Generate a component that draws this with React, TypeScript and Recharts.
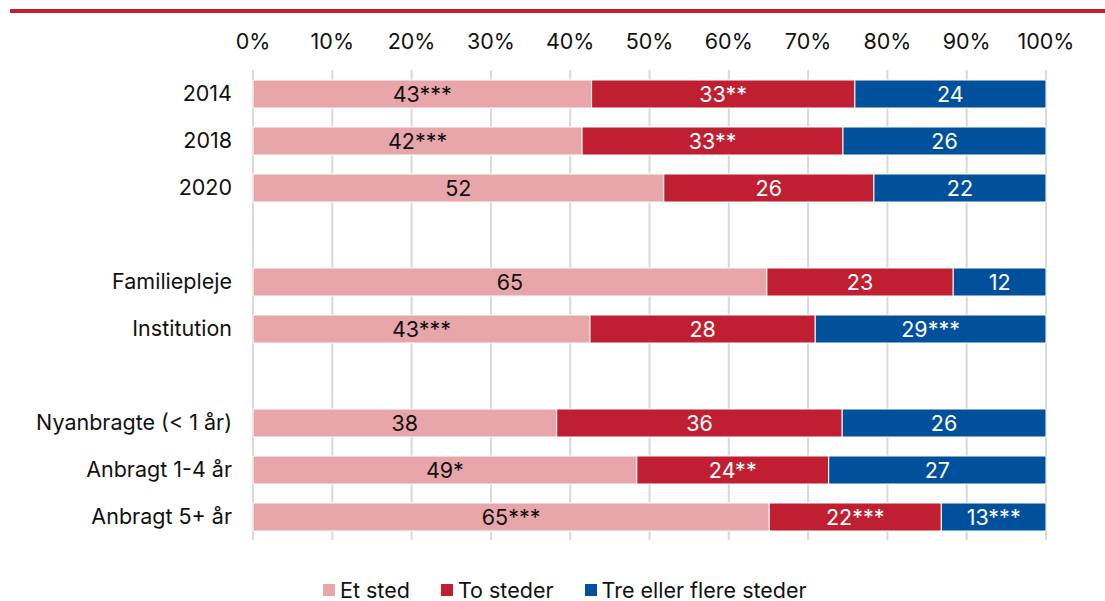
import React from 'react';
import { BarChart, Bar, XAxis, YAxis, CartesianGrid, Legend, LabelList } from 'recharts';

const categories = ['2014', '2018', '2020', ' ', 'Familiepleje', 'Institution', '  ', 'Nyanbragte (< 1 år)', 'Anbragt 1-4 år', 'Anbragt 5+ år'];
const etSted = [42.7, 41.5, 51.8, null, 64.8, 42.5, null, 38.3, 48.4, 65.1];
const toSteder = [33.2, 32.9, 26.5, null, 23.5, 28.4, null, 36.0, 24.2, 21.7];
const treSteder = [24.1, 25.6, 21.7, null, 11.7, 29.1, null, 25.7, 27.4, 13.2];
const etLabels = ['43***', '42***', '52', '', '65', '43***', '', '38', '49*', '65***'];
const toLabels = ['33**', '33**', '26', '', '23', '28', '', '36', '24**', '22***'];
const treLabels = ['24', '26', '22', '', '12', '29***', '', '26', '27', '13***'];
const xTicks = [0, 10, 20, 30, 40, 50, 60, 70, 80, 90, 100];

const data = categories.map((name, i) => ({
  name,
  et: etSted[i],
  to: toSteder[i],
  tre: treSteder[i],
  etL: etLabels[i],
  toL: toLabels[i],
  treL: treLabels[i],
}));

const FONT = 'Inter, "DejaVu Sans", sans-serif';
const FS = 21.5;
const PINK = '#e8a6ab';
const RED = '#c01f32';
const BLUE = '#00509b';

const renderLegend = (props: any) => {
  const { payload } = props;
  return (
    <div
      style={{
        display: 'flex',
        justifyContent: 'flex-start',
        gap: 31,
        fontFamily: FONT,
        fontSize: FS,
        lineHeight: '22px',
        color: '#111',
        height: 61,
        boxSizing: 'border-box',
        paddingTop: 38,
        paddingLeft: 323,
      }}
    >
      {payload.map((p: any) => (
        <div key={p.value} style={{ display: 'flex', alignItems: 'center' }}>
          <span style={{ width: 12, height: 12, background: p.color, display: 'inline-block', marginRight: 5 }} />
          <span>{p.value}</span>
        </div>
      ))}
    </div>
  );
};

export default function App() {
  return (
    <div style={{ position: 'absolute', left: 0, top: 0, width: 1105, height: 601, background: '#fff' }}>
      <div style={{ position: 'absolute', left: 10, top: 9, width: 1095, height: 4, background: RED }} />
      <BarChart
        width={1105}
        height={601}
        data={data}
        layout="vertical"
        barSize={28}
        margin={{ top: 0, right: 59, bottom: 0, left: 0 }}
        style={{ fontFamily: FONT }}
      >
        <CartesianGrid vertical horizontal={false} stroke="#d9d9d9" strokeWidth={2} />
        <XAxis
          type="number"
          orientation="top"
          domain={[0, 100]}
          ticks={xTicks}
          tickFormatter={(v: number) => `${v}%`}
          axisLine={false}
          tickLine={false}
          tickSize={0}
          tickMargin={21}
          height={70}
          tick={{ fill: '#111', fontSize: FS }}
          interval={0}
        />
        <YAxis
          type="category"
          dataKey="name"
          width={253}
          axisLine={false}
          tickLine={false}
          tickSize={0}
          tickMargin={21}
          tick={{ fill: '#111', fontSize: FS }}
          interval={0}
        />
        <Legend verticalAlign="bottom" content={renderLegend} />
        <Bar dataKey="et" name="Et sted" stackId="a" fill={PINK} stroke="#fff" strokeWidth={1} isAnimationActive={false}>
          <LabelList dataKey="etL" position="center" fill="#111" fontSize={FS} />
        </Bar>
        <Bar dataKey="to" name="To steder" stackId="a" fill={RED} stroke="#fff" strokeWidth={1} isAnimationActive={false}>
          <LabelList dataKey="toL" position="center" fill="#fff" fontSize={FS} />
        </Bar>
        <Bar dataKey="tre" name="Tre eller flere steder" stackId="a" fill={BLUE} stroke="#fff" strokeWidth={1} isAnimationActive={false}>
          <LabelList dataKey="treL" position="center" fill="#fff" fontSize={FS} />
        </Bar>
      </BarChart>
    </div>
  );
}
